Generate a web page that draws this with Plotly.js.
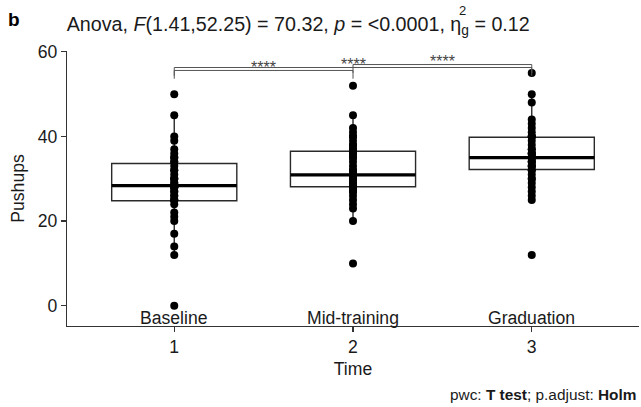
<!DOCTYPE html>
<html>
<head>
<meta charset="utf-8">
<script src="https://cdn.plot.ly/plotly-3.0.1.min.js"></script>
<style>html,body{margin:0;padding:0;background:#fff}#chart{width:641px;height:407px}</style>
</head>
<body>
<div id="chart"></div>
<script>
// ---- data ----
const timeCodes = [1, 2, 3];
const timeLabels = ["Baseline", "Mid-training", "Graduation"];
const tickLabels = ["1", "2", "3"];
const yTicks = [0, 20, 40, 60];

const baseline = [0, 12, 14, 17, 20, 21, 22, 24, 25, 25, 25, 26, 26, 27, 27, 28, 28, 28, 28, 29,
                  29, 30, 30, 30, 31, 32, 32, 33, 34, 34, 35, 35, 36, 37, 39, 40, 45, 50];
const midTraining = [10, 20, 23, 24, 25, 26, 27, 27, 28, 28, 28, 29, 29, 30, 30, 30, 31, 31, 31, 32,
                     32, 33, 34, 35, 35, 36, 36, 37, 37, 38, 38, 39, 40, 40, 41, 42, 45, 52];
const graduation = [12, 25, 26, 27, 28, 29, 30, 30, 31, 32, 32, 33, 33, 33, 34, 34, 34, 35, 35, 35,
                    35, 36, 36, 36, 37, 37, 38, 39, 40, 40, 40, 41, 42, 43, 44, 48, 50, 55];

const q1 = [24.8, 28.1, 32.2];
const medians = [28.4, 30.9, 35.0];
const q3 = [33.6, 36.5, 39.8];
const lowerFence = [12, 20, 25];
const upperFence = [45, 45, 50];

// pairwise comparisons (indices into timeCodes), bracket heights and labels
const compGroup1 = [0, 1, 0];
const compGroup2 = [1, 2, 2];
const compY = [55.6, 57.0, 56.3];
const compLabels = ["****", "****", "****"];

const titleText = "Anova, <i>F</i>(1.41,52.25) = 70.32, <i>p</i> = &lt;0.0001, η<sub>g</sub> = 0.12";
const captionText = "pwc: <b>T test</b>; p.adjust: <b>Holm</b>";

// ---- layout constants ----
const W = 641, H = 407;
const M = {l: 67, r: 2, t: 51, b: 81};
const plotW = W - M.l - M.r, plotH = H - M.t - M.b;
const px2x = px => (px - M.l) / plotW;
const py2y = py => (H - M.b - py) / plotH;
const FONT = "Liberation Sans, Arial, sans-serif";
const TXT = "#1a1a1a";
const boxWidth = 0.7;
const tip = 1.95;

const groups = [baseline, midTraining, graduation];

const traces = [];
traces.push({
  type: "box",
  x: timeCodes,
  q1: q1, median: medians, q3: q3,
  lowerfence: lowerFence, upperfence: upperFence,
  width: boxWidth,
  boxpoints: false,
  fillcolor: "#ffffff",
  line: {color: "#2a2a2a", width: 1.4},
  whiskerwidth: 0,
  hoverinfo: "skip",
  showlegend: false
});

// thick median bars
const mx = [], my = [];
timeCodes.forEach((t, i) => { mx.push(t - boxWidth / 2, t + boxWidth / 2, null); my.push(medians[i], medians[i], null); });
traces.push({type: "scatter", mode: "lines", x: mx, y: my, line: {color: "#000", width: 3.2}, hoverinfo: "skip", showlegend: false});

// points
const px = [], pyv = [];
groups.forEach((g, i) => g.forEach(v => { px.push(timeCodes[i]); pyv.push(v); }));
traces.push({type: "scatter", mode: "markers", x: px, y: pyv, marker: {color: "#000", size: 8}, hoverinfo: "skip", showlegend: false});

// brackets
const shapes = compGroup1.map((g1, i) => {
  const xa = timeCodes[g1], xb = timeCodes[compGroup2[i]], y = compY[i];
  return {type: "path", xref: "x", yref: "y",
    path: `M ${xa},${y - tip} L ${xa},${y} L ${xb},${y} L ${xb},${y - tip}`,
    line: {color: "#555", width: 1}};
});

const annotations = [];
compGroup1.forEach((g1, i) => {
  annotations.push({xref: "x", yref: "y", x: (timeCodes[g1] + timeCodes[compGroup2[i]]) / 2, y: compY[i],
    text: compLabels[i], showarrow: false, yanchor: "middle", yshift: 3,
    font: {family: FONT, size: 16, color: "#444"}});
});
timeLabels.forEach((lab, i) => {
  annotations.push({xref: "x", yref: "y", x: timeCodes[i], y: -2.9, text: lab, showarrow: false,
    yanchor: "middle", font: {family: FONT, size: 17.6, color: TXT}});
});
annotations.push({xref: "paper", yref: "paper", x: px2x(14), y: py2y(19.7), text: "<b>b</b>", showarrow: false,
  xanchor: "center", yanchor: "middle", font: {family: FONT, size: 19, color: "#000"}});
annotations.push({xref: "paper", yref: "paper", x: px2x(462), y: py2y(11), text: "2", showarrow: false,
  xanchor: "center", yanchor: "middle", font: {family: FONT, size: 13, color: TXT}});
annotations.push({xref: "paper", yref: "paper", x: px2x(638), y: py2y(394), text: captionText, showarrow: false,
  xanchor: "right", yanchor: "middle", font: {family: FONT, size: 15.4, color: TXT}});

const axisCommon = {
  showline: true, linecolor: "#333", linewidth: 1.2,
  ticks: "outside", ticklen: 5, tickwidth: 1.2, tickcolor: "#333",
  showgrid: false, zeroline: false,
  tickfont: {family: FONT, size: 17.6, color: TXT}
};

const layout = {
  width: W, height: H, margin: M,
  paper_bgcolor: "#fff", plot_bgcolor: "#fff",
  font: {family: FONT, color: TXT},
  title: {text: titleText, xref: "container", x: 66.7 / W, xanchor: "left",
          yref: "container", y: 1 - 24.2 / H, yanchor: "middle",
          font: {family: FONT, size: 19.7, color: TXT}},
  xaxis: Object.assign({}, axisCommon, {range: [0.4, 3.6], tickvals: timeCodes, ticktext: tickLabels,
          title: {text: "Time", standoff: 6, font: {family: FONT, size: 17.6, color: TXT}}}),
  yaxis: Object.assign({}, axisCommon, {range: [-4.8, 60.2], tickvals: yTicks,
          title: {text: "Pushups", standoff: 8, font: {family: FONT, size: 17.6, color: TXT}}}),
  shapes: shapes,
  annotations: annotations,
  showlegend: false
};

Plotly.newPlot("chart", traces, layout, {staticPlot: true, displayModeBar: false});
</script>
</body>
</html>
